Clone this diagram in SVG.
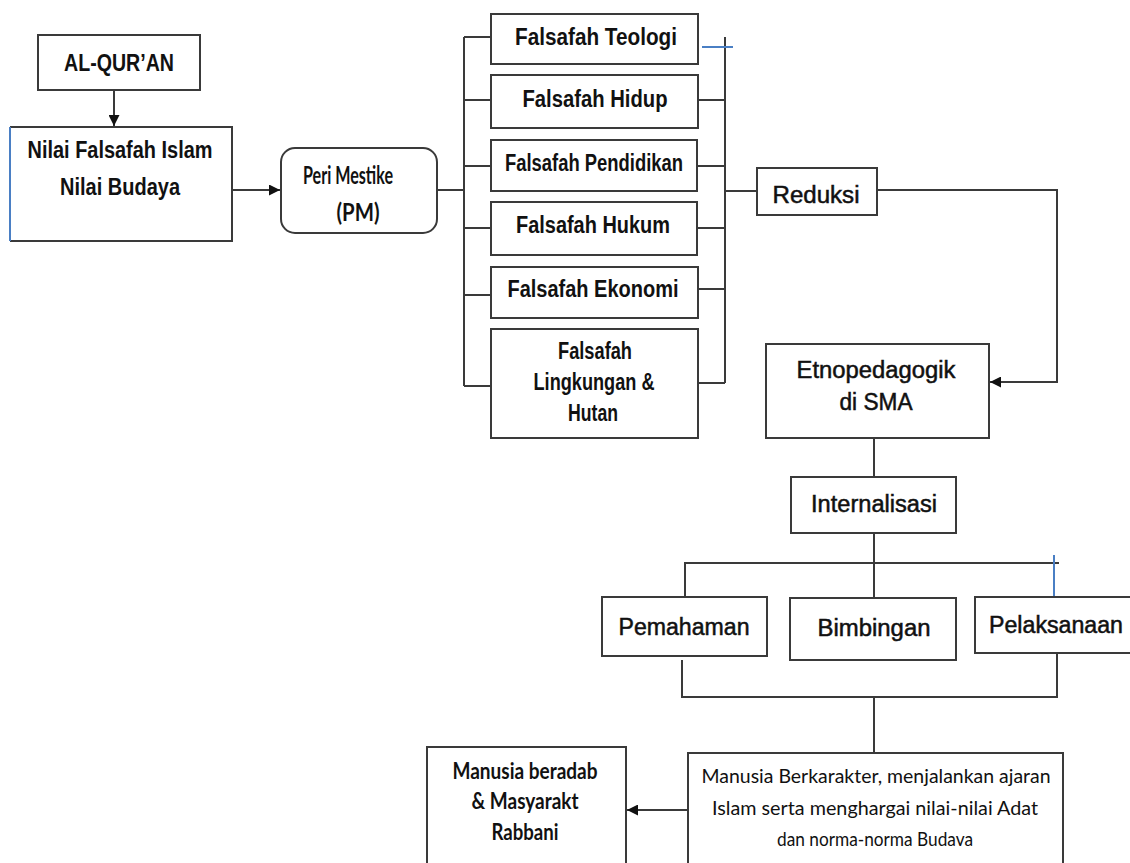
<svg xmlns="http://www.w3.org/2000/svg" width="1130" height="863" viewBox="0 0 1130 863">
  <defs>
    <marker id="arrow" viewBox="0 0 10 10" refX="10" refY="5" markerWidth="11" markerHeight="11" markerUnits="userSpaceOnUse" orient="auto">
      <path d="M0,0 L10,5 L0,10 z" fill="#111"/>
    </marker>
    <style>
      .box { fill: #ffffff; stroke: #3a3a3a; stroke-width: 2; }
      .edge { fill: none; stroke: #3a3a3a; stroke-width: 2; }
      .blue { fill: none; stroke: #4a7fc4; stroke-width: 2; }
      text { fill: #111; text-anchor: middle; }
      .nb { font-family: "Liberation Sans", Arial, sans-serif; font-weight: bold; font-size: 23px; }
      .nr { font-family: "Liberation Sans", Arial, sans-serif; font-weight: normal; font-size: 23px; stroke: #111; stroke-width: 0.5px; }
      .cb { font-family: Lato, "Open Sans", sans-serif; font-weight: bold; font-size: 19px; }
      .pm { font-family: Lato, "Open Sans", sans-serif; font-weight: bold; font-size: 20px; }
      .cr { font-family: Lato, "Open Sans", sans-serif; font-weight: normal; font-size: 17px; }
    </style>
  </defs>
  <rect width="1130" height="863" fill="#ffffff"/>

  <!-- connectors -->
  <g id="connectors">
    <line class="edge" x1="114" y1="90" x2="114" y2="126" marker-end="url(#arrow)"/>
    <line class="edge" x1="232" y1="190" x2="280" y2="190" marker-end="url(#arrow)"/>
    <line class="edge" x1="437" y1="190" x2="464" y2="190"/>
    <!-- left bracket -->
    <path class="edge" d="M464,37 V386 M464,37 H490 M464,100 H490 M464,166 H490 M464,228 H490 M464,295 H490 M464,386 H490"/>
    <!-- right bracket -->
    <path class="edge" d="M725,37 V383 M698,100 H725 M698,166 H725 M698,228 H725 M698,289 H725 M698,383 H725 M725,191 H757"/>
    <line class="blue" x1="702" y1="47" x2="733" y2="47"/>
    <!-- Reduksi to Etnopedagogik -->
    <path class="edge" d="M877,190 H1057 V382 H990" marker-end="url(#arrow)"/>
    <line class="edge" x1="874" y1="438" x2="874" y2="477"/>
    <line class="edge" x1="874" y1="533" x2="874" y2="598"/>
    <!-- fan out -->
    <path class="edge" d="M685,597 V563 H1059"/>
    <line class="blue" x1="1054" y1="555" x2="1054" y2="597"/>
    <!-- gather -->
    <path class="edge" d="M682,660 V697 H1057 V653"/>
    <line class="edge" x1="874" y1="697" x2="874" y2="753"/>
    <line class="edge" x1="688" y1="810" x2="627" y2="810" marker-end="url(#arrow)"/>
  </g>

  <g id="alquran">
    <rect class="box" x="38" y="35" width="162" height="55"/>
    <text class="nb" x="119" y="71" textLength="110" lengthAdjust="spacingAndGlyphs">AL-QUR’AN</text>
  </g>

  <g id="nilai">
    <path class="box" d="M10,127 H232 V241 H10"/>
    <line class="blue" x1="10" y1="127" x2="10" y2="241"/>
    <text class="nb" x="120" y="158" textLength="185" lengthAdjust="spacingAndGlyphs">Nilai Falsafah Islam</text>
    <text class="nb" x="120" y="195" textLength="120" lengthAdjust="spacingAndGlyphs">Nilai Budaya</text>
  </g>

  <g id="peri-mestike">
    <rect class="box" x="281" y="148" width="156" height="85" rx="14" ry="14"/>
    <!-- tall, narrow lettering: stretched vertically about the baseline -->
    <text class="pm" transform="translate(348,184) scale(1,1.2)" textLength="90" lengthAdjust="spacingAndGlyphs">Peri Mestike</text>
    <text class="pm" transform="translate(358,221) scale(1,1.2)" textLength="43" lengthAdjust="spacingAndGlyphs">(PM)</text>
  </g>

  <g id="falsafah-teologi">
    <rect class="box" x="491" y="14" width="207" height="50"/>
    <text class="nb" x="596" y="45" textLength="162" lengthAdjust="spacingAndGlyphs">Falsafah Teologi</text>
  </g>
  <g id="falsafah-hidup">
    <rect class="box" x="491" y="75" width="207" height="53"/>
    <text class="nb" x="595" y="107" textLength="145" lengthAdjust="spacingAndGlyphs">Falsafah Hidup</text>
  </g>
  <g id="falsafah-pendidikan">
    <rect class="box" x="491" y="140" width="206" height="51"/>
    <text class="nb" x="594" y="171" textLength="178" lengthAdjust="spacingAndGlyphs">Falsafah Pendidikan</text>
  </g>
  <g id="falsafah-hukum">
    <rect class="box" x="491" y="202" width="206" height="53"/>
    <text class="nb" x="593" y="233" textLength="154" lengthAdjust="spacingAndGlyphs">Falsafah Hukum</text>
  </g>
  <g id="falsafah-ekonomi">
    <rect class="box" x="491" y="267" width="207" height="51"/>
    <text class="nb" x="593" y="297" textLength="171" lengthAdjust="spacingAndGlyphs">Falsafah Ekonomi</text>
  </g>
  <g id="falsafah-lingkungan">
    <rect class="box" x="491" y="329" width="207" height="109"/>
    <text class="nb" x="595" y="359" textLength="74" lengthAdjust="spacingAndGlyphs">Falsafah</text>
    <text class="nb" x="594" y="390" textLength="121" lengthAdjust="spacingAndGlyphs">Lingkungan &amp;</text>
    <text class="nb" x="593" y="421" textLength="50" lengthAdjust="spacingAndGlyphs">Hutan</text>
  </g>

  <g id="reduksi">
    <rect class="box" x="757" y="168" width="120" height="47"/>
    <text class="nr" x="816" y="203" textLength="87" lengthAdjust="spacingAndGlyphs">Reduksi</text>
  </g>

  <g id="etnopedagogik">
    <rect class="box" x="766" y="344" width="223" height="94"/>
    <text class="nr" x="876" y="378" textLength="159" lengthAdjust="spacingAndGlyphs">Etnopedagogik</text>
    <text class="nr" x="876" y="410" textLength="73" lengthAdjust="spacingAndGlyphs">di SMA</text>
  </g>

  <g id="internalisasi">
    <rect class="box" x="791" y="477" width="165" height="56"/>
    <text class="nr" x="874" y="512" textLength="126" lengthAdjust="spacingAndGlyphs">Internalisasi</text>
  </g>

  <g id="pemahaman">
    <rect class="box" x="602" y="597" width="165" height="59"/>
    <text class="nr" x="684" y="635" textLength="131" lengthAdjust="spacingAndGlyphs">Pemahaman</text>
  </g>
  <g id="bimbingan">
    <rect class="box" x="790" y="598" width="166" height="62"/>
    <text class="nr" x="874" y="636" textLength="113" lengthAdjust="spacingAndGlyphs">Bimbingan</text>
  </g>
  <g id="pelaksanaan">
    <rect class="box" x="975" y="597" width="170" height="56"/>
    <text class="nr" x="1056" y="633" textLength="134" lengthAdjust="spacingAndGlyphs">Pelaksanaan</text>
  </g>

  <g id="manusia-beradab">
    <rect class="box" x="427" y="747" width="199" height="130"/>
    <text class="cb" transform="translate(525,779) scale(1,1.15)" textLength="145" lengthAdjust="spacingAndGlyphs">Manusia beradab</text>
    <text class="cb" transform="translate(525,809) scale(1,1.15)" textLength="107" lengthAdjust="spacingAndGlyphs">&amp; Masyarakt</text>
    <text class="cb" transform="translate(525,840) scale(1,1.15)" textLength="67" lengthAdjust="spacingAndGlyphs">Rabbani</text>
  </g>

  <g id="manusia-berkarakter">
    <rect class="box" x="688" y="753" width="375" height="130"/>
    <text class="cr" transform="translate(876,783) scale(1,1.15)" textLength="349" lengthAdjust="spacingAndGlyphs">Manusia Berkarakter, menjalankan ajaran</text>
    <text class="cr" transform="translate(875,815) scale(1,1.15)" textLength="326" lengthAdjust="spacingAndGlyphs">Islam serta menghargai nilai-nilai Adat</text>
    <text class="cr" transform="translate(875,846) scale(1,1.15)" textLength="196" lengthAdjust="spacingAndGlyphs">dan norma-norma Budava</text>
  </g>
</svg>
